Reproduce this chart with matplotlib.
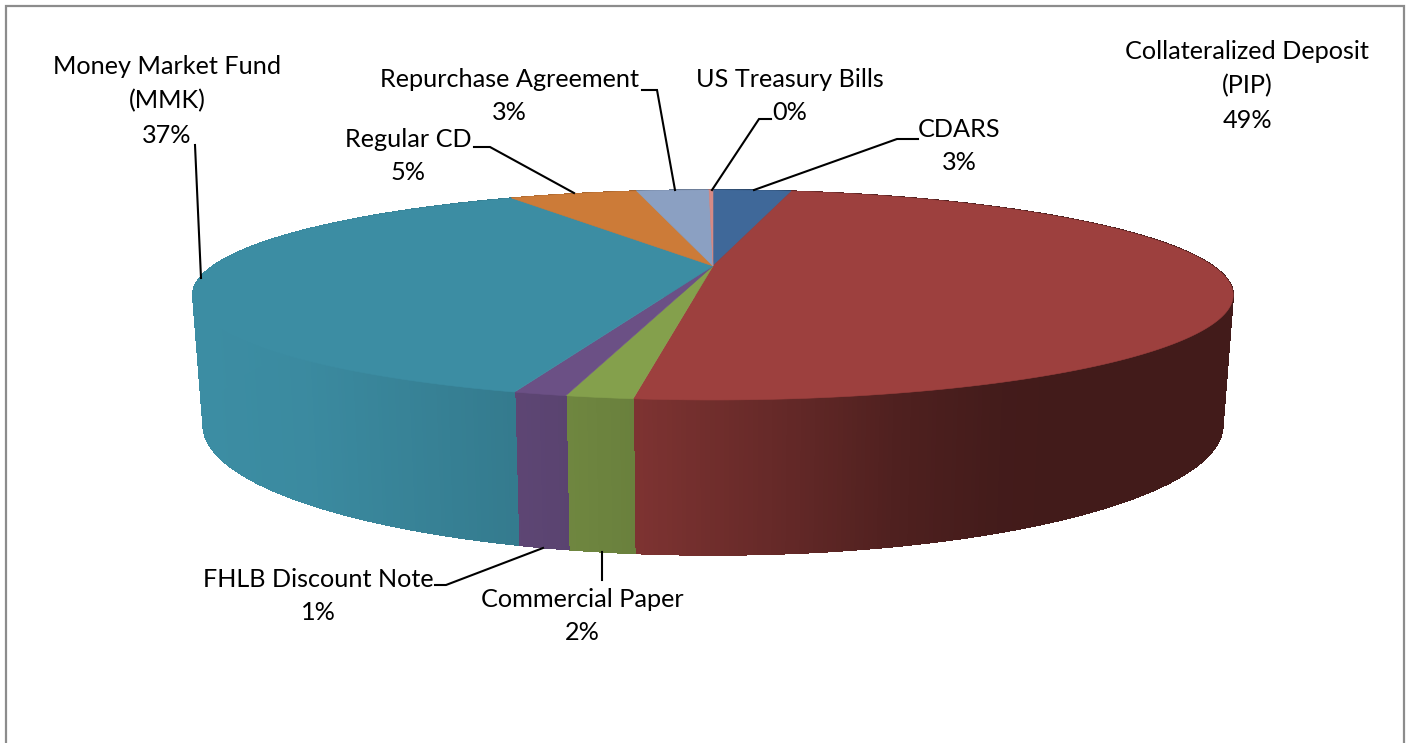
import numpy as np
import matplotlib
matplotlib.use("Agg")
import matplotlib.pyplot as plt
from matplotlib.collections import PolyCollection
from matplotlib.patches import Polygon, Rectangle

# share of each holding, clockwise from 12 o'clock
categories = ["CDARS", "Collateralized Deposit\n(PIP)", "Commercial Paper", "FHLB Discount Note",
              "Money Market Fund\n(MMK)", "Regular CD", "Repurchase Agreement", "US Treasury Bills"]
shares = [3.2, 48.65, 1.6, 1.27, 36.98, 5.2, 2.94, 0.16]
colors = ["#3f6899", "#9d403e", "#84a04c", "#6b5085", "#3c8da3", "#cc7b38", "#8ba0c2", "#d68a85"]

# label centre, then the leader line from the pie outwards
label_pos = [(959, 146), (1247, 86), (582, 616), (318, 596), (167, 101), (408, 156), (509, 96), (790, 96)]
leaders = [[(754, 190), (897, 139), (918, 139)],
           None,
           [(602, 552), (602, 580)],
           [(543, 548), (446, 585), (435, 585)],
           [(201, 278), (195, 145)],
           [(574, 193), (490, 147), (474, 147)],
           [(675, 190), (657, 90), (642, 90)],
           [(712, 190), (759, 119), (771, 119)]]

FONT = ["Lato", "DejaVu Sans"]
CX = 713


def top_rim(t):
    # top disc in perspective, t clockwise from the back of the pie
    u, v = np.sin(t), np.cos(t)
    d = 1 + 0.276 * v
    return CX + 500 * u / d, 266 - 97 * v / d


def bottom_rim(t):
    u, v = np.sin(t), np.cos(t)
    d = 1 + 0.276 * v
    return CX + 490 * u / d, 389.2 - 120 * v / d


def shade(x):
    # side wall gets darker towards the right
    return np.interp(x, [200, 300, 515, 634, 800, 900, 1000, 1060], [1.0, 0.98, 0.87, 0.80, 0.62, 0.50, 0.43, 0.42])


fig = plt.figure(figsize=(14.08, 7.43), dpi=100)
ax = fig.add_axes([0, 0, 1, 1])
ax.set_xlim(0, 1408)
ax.set_ylim(743, 0)
ax.axis("off")
ax.add_patch(Rectangle((6, 6), 1398, 760, fc="white", ec="#8c8c8c", lw=1.6))

edges = np.radians(np.concatenate([[0], np.cumsum(shares)]) * 3.6)

# side wall, one thin strip at a time so the shading stays smooth
for i, c in enumerate(colors):
    ts = np.arange(edges[i], edges[i + 1], np.radians(0.4))
    ts = np.append(ts, edges[i + 1])
    x1, y1 = top_rim(ts)
    x2, y2 = bottom_rim(ts)
    base = np.array(matplotlib.colors.to_rgb(c))
    quads, cols = [], []
    for j in range(len(ts) - 1):
        quads.append([(x1[j], y1[j]), (x1[j + 1], y1[j + 1]), (x2[j + 1], y2[j + 1]), (x2[j], y2[j])])
        cols.append(np.clip(base * shade((x1[j] + x1[j + 1]) / 2), 0, 1))
    ax.add_collection(PolyCollection(quads, facecolors=cols, edgecolors=cols, linewidths=0.5, antialiaseds=False))

# top face
for i, c in enumerate(colors):
    ts = np.linspace(edges[i], edges[i + 1], 200)
    x, y = top_rim(ts)
    pts = [(CX, 266)] + list(zip(x, y))
    ax.add_patch(Polygon(pts, closed=True, fc=c, ec=c, lw=0.4))

for name, share, (lx, ly), line in zip(categories, shares, label_pos, leaders):
    ax.text(lx, ly, f"{name}\n{round(share)}%", ha="center", va="center", fontsize=18.2,
            family=FONT, color="black", linespacing=1.57)
    if line:
        ax.plot(*zip(*line), color="black", lw=1.5, solid_joinstyle="miter")

fig.savefig("out.png", dpi=100)
